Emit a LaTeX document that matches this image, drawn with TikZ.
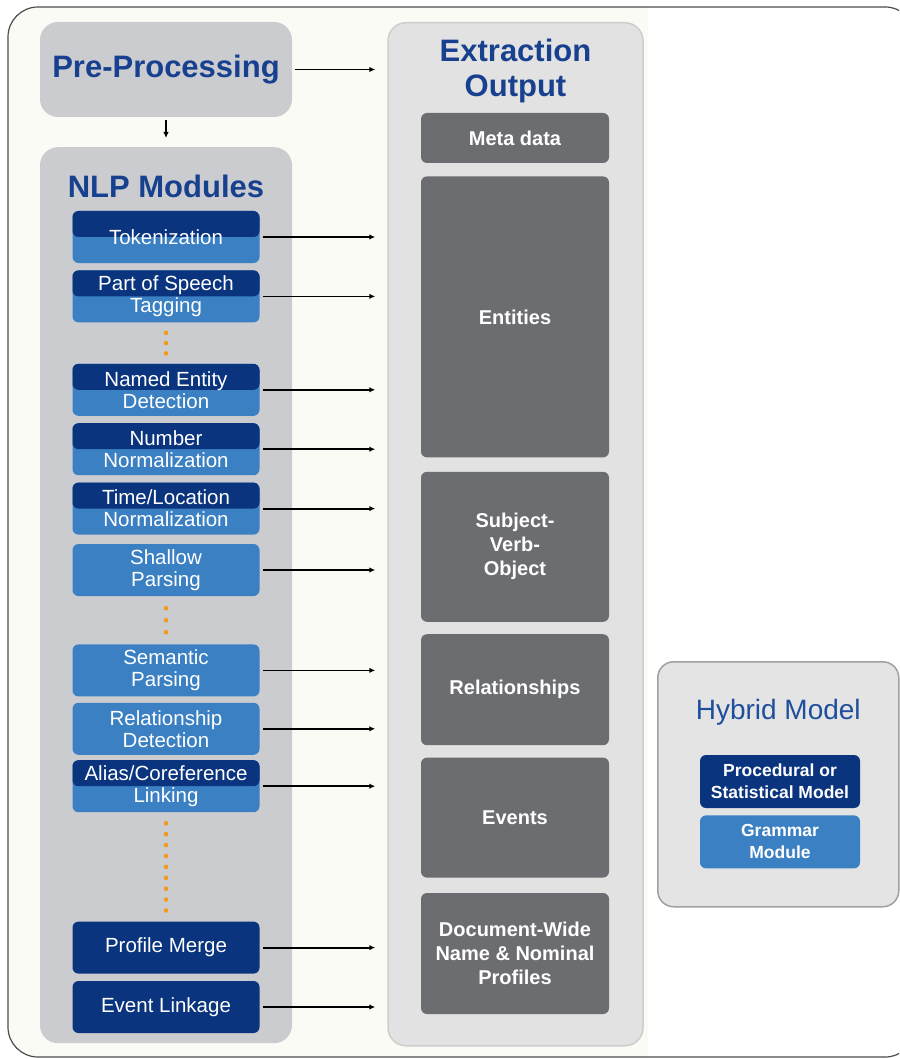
\documentclass[tikz,border=0pt]{standalone}
\usepackage{fontspec}
\setmainfont{Liberation Sans}
\usepackage{xcolor}
\usetikzlibrary{arrows.meta,positioning,calc}

\definecolor{stagedark}{HTML}{0A347E}
\definecolor{stagelight}{HTML}{3B80C3}
\definecolor{panelgray}{HTML}{CBCCCF}
\definecolor{outpanel}{HTML}{E2E2E2}
\definecolor{outborder}{HTML}{CDCDCD}
\definecolor{resultgray}{HTML}{6C6D70}
\definecolor{headblue}{HTML}{17408F}
\definecolor{hybridblue}{HTML}{1F4F9C}
\definecolor{dotorange}{HTML}{F39A1E}
\definecolor{hybridfill}{HTML}{E4E4E4}
\definecolor{hybridborder}{HTML}{A0A0A0}
\definecolor{paper}{HTML}{FBFBF6}

\begin{document}
\begin{tikzpicture}[
  x=1pt, y=-1pt,
  node distance=7pt,
  panel/.style={fill=panelgray, rounded corners=18pt, inner sep=0pt},
  heading/.style={font=\fontsize{31}{35}\selectfont\bfseries, text=headblue, align=center},
  stage/.style={fill=stagelight, rounded corners=6pt, minimum width=187pt, minimum height=52pt, inner sep=0pt, text=white, align=center, font=\fontsize{20.5}{22}\selectfont},
  splitstage/.style={stage, path picture={\fill[stagedark] (path picture bounding box.north west) rectangle (path picture bounding box.east);}},
  darkstage/.style={stage, fill=stagedark},
  modelbox/.style={minimum width=160pt, minimum height=53pt, font=\fontsize{17.5}{22}\selectfont\bfseries},
  result/.style={fill=resultgray, rounded corners=6pt, minimum width=188pt, inner sep=0pt, text=white, align=center, font=\fontsize{20}{24}\selectfont\bfseries},
  arrow/.style={-{Latex[length=6pt,width=5.5pt]}, line width=1.8pt, shorten <=3pt, shorten >=12pt}
]
\useasboundingbox (0,0) rectangle (899,1059);
% page and frame
\begin{scope}
  \clip (0,0) rectangle (648,1059);
  \fill[paper, rounded corners=30pt] (8,7) rectangle (915,1057);
\end{scope}
\begin{scope}
  \clip (0,0) rectangle (899,1059);
  \draw[black!70, line width=1.2pt, rounded corners=30pt] (8,7) rectangle (915,1057);
\end{scope}

% left column
\node[panel, heading, minimum width=252pt, minimum height=95pt] (pre) at (166,69.5) {Pre-Processing};
\node[panel, minimum width=252pt, minimum height=896pt, anchor=north] (nlp) at (166,147) {};
\node[heading] (nlphead) at ([yshift=-39pt]nlp.north) {NLP Modules};

\node[splitstage] (tok) at (166,237) {Tokenization};
\node[splitstage, below=of tok] (pos) {Part of Speech\\Tagging};
\node[splitstage, below=41pt of pos] (ned) {Named Entity\\Detection};
\node[splitstage, below=of ned] (num) {Number\\Normalization};
\node[splitstage, below=of num] (timeloc) {Time/Location\\Normalization};
\node[stage, below=9pt of timeloc] (shallow) {Shallow\\Parsing};
\node[stage, below=48pt of shallow] (semantic) {Semantic\\Parsing};
\node[stage, below=6pt of semantic] (reldet) {Relationship\\Detection};
\node[splitstage, below=5pt of reldet] (alias) {Alias/Coreference\\Linking};
\node[darkstage, below=109pt of alias] (merge) {Profile Merge};
\node[darkstage, below=of merge] (linkage) {Event Linkage};

% skipped modules
\foreach \i in {1,2,3} \fill[dotorange] ($(pos.south)!\i/4!(ned.north)$) circle (2.3pt);
\foreach \i in {1,2,3} \fill[dotorange] ($(shallow.south)!\i/4!(semantic.north)$) circle (2.3pt);
\foreach \i in {1,...,9} \fill[dotorange] ($(alias.south)!\i/10!(merge.north)$) circle (2.3pt);

% output column
\node[panel, fill=outpanel, draw=outborder, line width=1.5pt, minimum width=255pt, minimum height=1023pt, anchor=north] (extract) at (515.5,22) {};
\node[heading] (exthead) at ([yshift=-49pt]extract.north) {Extraction\\Output};

\node[result, minimum height=50pt] (meta) at (515,138) {Meta data};
\node[result, minimum height=281pt, below=13pt of meta] (entities) {Entities};
\node[result, minimum height=150pt, below=14pt of entities] (svo) {Subject-\\Verb-\\Object};
\node[result, minimum height=111pt, below=12pt of svo] (rels) {Relationships};
\node[result, minimum height=120pt, below=12pt of rels] (events) {Events};
\node[result, minimum height=121pt, below=15pt of events] (profiles) {Document-Wide\\Name \& Nominal\\Profiles};

% legend
\node[fill=hybridfill, draw=hybridborder, line width=1.5pt, rounded corners=16pt, minimum width=241pt, minimum height=245pt, anchor=north west] (hybrid) at (657,661) {};
\node[font=\fontsize{28}{32}\selectfont, text=hybridblue] (hybridhead) at ([yshift=-51pt]hybrid.north) {Hybrid Model};
\node[darkstage, modelbox] (procedural) at (780,781.5) {Procedural or\\Statistical Model};
\node[stage, modelbox, below=of procedural] (grammar) {Grammar\\Module};

\draw[arrow] (pre.east) -- (pre.east -| extract.west);
\draw[arrow, shorten >=9pt] (pre.south) -- (nlp.north);
\foreach \m in {tok,pos,ned,num,timeloc,shallow,semantic,reldet,alias,merge,linkage}
  \draw[arrow] (\m.east) -- (\m.east -| extract.west);
\end{tikzpicture}
\end{document}
